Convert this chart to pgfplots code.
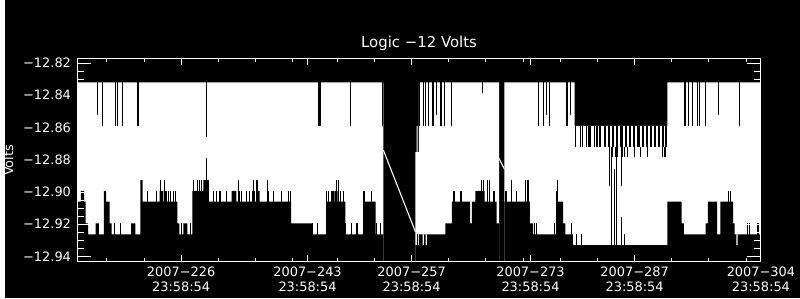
\documentclass[border=0pt]{standalone}
\usepackage{fontspec}
\setmainfont{DejaVu Sans}
\usepackage{pgfplots}
\pgfplotsset{compat=1.18}
\begin{document}
\begin{tikzpicture}
\fill[black] (0,0) rectangle (800bp,300bp);
\begin{axis}[
  at={(72.7bp,36.7bp)}, anchor=south west,
  scale only axis, width=688bp, height=204bp,
  xmin=212, xmax=304, ymin=-12.9432, ymax=-12.8175,
  axis on top,
  axis line style={white, line width=0.9bp},
  tick style={white, line width=0.9bp},
  tick align=inside,
  xtick={226,243,257,273,287,304},
  xticklabels={{2007−226\\23:58:54},{2007−243\\23:58:54},{2007−257\\23:58:54},{2007−273\\23:58:54},{2007−287\\23:58:54},{2007−304\\23:58:54}},
  minor xtick={216,221,231,236,241,247,252,262,267,272,277,282,292,297,302},
  ytick={-12.94,-12.92,-12.90,-12.88,-12.86,-12.84,-12.82},
  yticklabels={−12.94,−12.92,−12.90,−12.88,−12.86,−12.84,−12.82},
  minor ytick={-12.935,-12.93,-12.925,-12.915,-12.91,-12.905,-12.895,-12.89,-12.885,-12.875,-12.87,-12.865,-12.855,-12.85,-12.845,-12.835,-12.83,-12.825},
  xtick style={/pgfplots/major tick length=6.5bp, /pgfplots/minor tick length=3.3bp},
  ytick style={/pgfplots/major tick length=14bp, /pgfplots/minor tick length=7bp},
  xticklabel style={align=center, font=\fontsize{13bp}{15bp}\selectfont, text=white, inner sep=0pt, anchor=north, yshift=-5bp},
  yticklabel style={font=\fontsize{13bp}{15bp}\selectfont, text=white, inner sep=0pt, anchor=east, xshift=-6bp},
  title={Logic −12 Volts},
  title style={font=\fontsize{15bp}{18bp}\selectfont, text=white, at={(0.5,1)}, anchor=base, yshift=6bp},
  ylabel={Volts},
  every axis y label/.style={at={(axis description cs:-0.0936,0.5)}, rotate=90, anchor=base, font=\fontsize{13bp}{15bp}\selectfont, text=white},
]
% upper envelope of the signal (white area)
\addplot[const plot, fill=white, draw=none] coordinates {
(212,-12.95) (212,-12.8321) (253.20,-12.95) (257.52,-12.8753) (257.98,-12.8321)
(268.76,-12.95) (269.48,-12.8321) (278.93,-12.8590) (291.42,-12.8321) (304,-12.8321) (304,-12.95)
};
% lower envelope of the signal (black area below)
\addplot[const plot, fill=black, draw=none] coordinates {
(212,-12.95) (212,-12.9060) (212.49,-12.8993) (212.94,-12.9060) (213.16,-12.9195)
(213.47,-12.9262) (214.50,-12.9195) (214.94,-12.9262) (215.60,-12.8993) (215.91,-12.9060)
(216.37,-12.9195) (216.63,-12.9262) (219.26,-12.9195) (219.84,-12.9262) (220.51,-12.8926)
(220.82,-12.9060) (223.10,-12.8993) (223.60,-12.9060) (225.50,-12.9195) (225.77,-12.9262)
(226.31,-12.9195) (226.84,-12.9262) (227.51,-12.8993) (228.98,-12.8926) (229.74,-12.9060)
(232.77,-12.8993) (233.44,-12.9060) (235.54,-12.8993) (235.90,-12.9060) (236.20,-12.8993)
(236.57,-12.9060) (240.80,-12.9195) (243.57,-12.9262) (245.57,-12.9060) (246.60,-12.8993)
(247.05,-12.9060) (248.08,-12.9262) (250.52,-12.9060) (252.17,-12.9262) (253.20,-12.95)
(257.52,-12.9329) (257.98,-12.9262) (261.53,-12.9195) (262.43,-12.9060) (264.88,-12.9195)
(265.11,-12.9060) (265.57,-12.8993) (266.83,-12.9060) (268.45,-12.9195) (268.76,-12.95)
(269.48,-12.9060) (272.91,-12.9195) (273.36,-12.9262) (276.48,-12.9060) (277.38,-12.9195)
(277.68,-12.9262) (278.71,-12.9329) (291.42,-12.9060) (293.34,-12.9195) (293.64,-12.9262)
(296.55,-12.9195) (296.85,-12.9060) (298.11,-12.9262) (298.55,-12.9060) (300.25,-12.9195)
(300.46,-12.9262) (304,-12.9262) (304,-12.95)
};
% wide black dips in the low-level stretch (Oct)
\addplot[black, line width=2.4bp, unbounded coords=jump] coordinates {
(282.38,-12.8590) (282.38,-12.8724) (282.38,nan)
(282.98,-12.8590) (282.98,-12.8724) (282.98,nan)
(283.58,-12.8590) (283.58,-12.8724) (283.58,nan)
(284.12,-12.8590) (284.12,-12.8724) (284.12,nan)
(284.65,-12.8590) (284.65,-12.8724) (284.65,nan)
(285.25,-12.8590) (285.25,-12.8724) (285.25,nan)
(285.86,-12.8590) (285.86,-12.8724) (285.86,nan)
(286.39,-12.8590) (286.39,-12.8724) (286.39,nan)
(286.93,-12.8590) (286.93,-12.8724) (286.93,nan)
(287.53,-12.8590) (287.53,-12.8724) (287.53,nan)
(288.13,-12.8590) (288.13,-12.8724) (288.13,nan)
(288.67,-12.8590) (288.67,-12.8724) (288.67,nan)
(289.20,-12.8590) (289.20,-12.8724) (289.20,nan)
(289.74,-12.8590) (289.74,-12.8724) (289.74,nan)
(290.27,-12.8590) (290.27,-12.8724) (290.27,nan)
(290.81,-12.8590) (290.81,-12.8724) (290.81,nan)
(291.21,-12.8590) (291.21,-12.8724) (291.21,nan)
};
% black dips from the top
\addplot[black, line width=1.1bp, unbounded coords=jump] coordinates {
(214.76,-12.8321) (214.76,-12.8523) (214.76,nan)
(215.43,-12.8321) (215.43,-12.8590) (215.43,nan)
(217.17,-12.8321) (217.17,-12.8590) (217.17,nan)
(217.43,-12.8321) (217.43,-12.8590) (217.43,nan)
(218.10,-12.8321) (218.10,-12.8590) (218.10,nan)
(220.19,-12.8321) (220.19,-12.8590) (220.19,nan)
(229.42,-12.8321) (229.42,-12.8657) (229.42,nan)
(244.54,-12.8321) (244.54,-12.8590) (244.54,nan)
(244.77,-12.8321) (244.77,-12.8590) (244.77,nan)
(248.74,-12.8321) (248.74,-12.8590) (248.74,nan)
(253.03,-12.8321) (253.03,-12.8590) (253.03,nan)
(258.10,-12.8321) (258.10,-12.8590) (258.10,nan)
(258.55,-12.8321) (258.55,-12.8590) (258.55,nan)
(258.86,-12.8321) (258.86,-12.8590) (258.86,nan)
(259.22,-12.8321) (259.22,-12.8590) (259.22,nan)
(259.76,-12.8321) (259.76,-12.8590) (259.76,nan)
(259.98,-12.8321) (259.98,-12.8590) (259.98,nan)
(260.29,-12.8321) (260.29,-12.8523) (260.29,nan)
(260.96,-12.8321) (260.96,-12.8590) (260.96,nan)
(261.40,-12.8321) (261.40,-12.8590) (261.40,nan)
(262.34,-12.8321) (262.34,-12.8590) (262.34,nan)
(266.58,-12.8321) (266.58,-12.8388) (266.58,nan)
(274.11,-12.8321) (274.11,-12.8590) (274.11,nan)
(274.70,-12.8321) (274.70,-12.8590) (274.70,nan)
(275.14,-12.8321) (275.14,-12.8523) (275.14,nan)
(275.58,-12.8321) (275.58,-12.8590) (275.58,nan)
(277.91,-12.8321) (277.91,-12.8590) (277.91,nan)
(278.35,-12.8321) (278.35,-12.8523) (278.35,nan)
(279.00,-12.8590) (279.00,-12.8724) (279.00,nan)
(279.69,-12.8590) (279.69,-12.8724) (279.69,nan)
(280.05,-12.8590) (280.05,-12.8724) (280.05,nan)
(280.49,-12.8590) (280.49,-12.8724) (280.49,nan)
(280.80,-12.8590) (280.80,-12.8724) (280.80,nan)
(280.95,-12.8590) (280.95,-12.8724) (280.95,nan)
(281.10,-12.8590) (281.10,-12.8724) (281.10,nan)
(281.60,-12.8590) (281.60,-12.8724) (281.60,nan)
(281.83,-12.8590) (281.83,-12.8724) (281.83,nan)
(282.00,-12.8590) (282.00,-12.8724) (282.00,nan)
(283.65,-12.8724) (283.65,-12.8784) (283.65,nan)
(283.85,-12.8724) (283.85,-12.8784) (283.85,nan)
(284.00,-12.8724) (284.00,-12.8784) (284.00,nan)
(284.50,-12.8724) (284.50,-12.8784) (284.50,nan)
(284.73,-12.8724) (284.73,-12.8784) (284.73,nan)
(285.20,-12.8724) (285.20,-12.8784) (285.20,nan)
(285.40,-12.8724) (285.40,-12.8784) (285.40,nan)
(285.60,-12.8724) (285.60,-12.8784) (285.60,nan)
(286.07,-12.8724) (286.07,-12.8784) (286.07,nan)
(286.96,-12.8724) (286.96,-12.8784) (286.96,nan)
(287.85,-12.8724) (287.85,-12.8784) (287.85,nan)
(288.75,-12.8724) (288.75,-12.8784) (288.75,nan)
(290.80,-12.8724) (290.80,-12.8784) (290.80,nan)
(291.00,-12.8724) (291.00,-12.8784) (291.00,nan)
(291.20,-12.8724) (291.20,-12.8784) (291.20,nan)
(283.61,-12.8724) (283.61,-12.8960) (283.61,nan)
(283.93,-12.8724) (283.93,-12.9329) (283.93,nan)
(284.24,-12.8857) (284.24,-12.9329) (284.24,nan)
(284.60,-12.8724) (284.60,-12.9329) (284.60,nan)
(285.27,-12.8724) (285.27,-12.8960) (285.27,nan)
(285.27,-12.9153) (285.27,-12.9329) (285.27,nan)
(293.78,-12.8321) (293.78,-12.8590) (293.78,nan)
(294.31,-12.8321) (294.31,-12.8590) (294.31,nan)
(294.85,-12.8321) (294.85,-12.8590) (294.85,nan)
(295.52,-12.8321) (295.52,-12.8590) (295.52,nan)
(295.74,-12.8321) (295.74,-12.8590) (295.74,nan)
(296.55,-12.8321) (296.55,-12.8590) (296.55,nan)
(298.33,-12.8321) (298.33,-12.8523) (298.33,nan)
(301.14,-12.8321) (301.14,-12.8590) (301.14,nan)
};
% black rises from the bottom
\addplot[black, line width=1.1bp, unbounded coords=jump] coordinates {
(217.00,-12.95) (217.00,-12.9195) (217.00,nan)
(217.82,-12.95) (217.82,-12.9195) (217.82,nan)
(226.08,-12.95) (226.08,-12.9195) (226.08,nan)
(227.20,-12.95) (227.20,-12.9195) (227.20,nan)
(243.68,-12.95) (243.68,-12.9195) (243.68,nan)
(244.30,-12.95) (244.30,-12.9195) (244.30,nan)
(248.15,-12.95) (248.15,-12.9195) (248.15,nan)
(248.92,-12.95) (248.92,-12.9195) (248.92,nan)
(249.55,-12.95) (249.55,-12.9195) (249.55,nan)
(249.75,-12.95) (249.75,-12.9195) (249.75,nan)
(252.28,-12.95) (252.28,-12.9195) (252.28,nan)
(252.80,-12.95) (252.80,-12.9195) (252.80,nan)
(273.50,-12.95) (273.50,-12.9195) (273.50,nan)
(273.80,-12.95) (273.80,-12.9195) (273.80,nan)
(276.20,-12.95) (276.20,-12.9195) (276.20,nan)
(278.50,-12.95) (278.50,-12.9195) (278.50,nan)
(302.20,-12.95) (302.20,-12.9195) (302.20,nan)
(302.50,-12.95) (302.50,-12.9195) (302.50,nan)
(303.60,-12.95) (303.60,-12.9195) (303.60,nan)
(221.49,-12.95) (221.49,-12.8993) (221.49,nan)
(222.74,-12.95) (222.74,-12.8993) (222.74,nan)
(223.86,-12.95) (223.86,-12.8993) (223.86,nan)
(224.07,-12.95) (224.07,-12.8993) (224.07,nan)
(224.30,-12.95) (224.30,-12.8993) (224.30,nan)
(224.60,-12.95) (224.60,-12.8993) (224.60,nan)
(224.97,-12.95) (224.97,-12.8993) (224.97,nan)
(225.20,-12.95) (225.20,-12.8993) (225.20,nan)
(230.32,-12.95) (230.32,-12.8993) (230.32,nan)
(230.76,-12.95) (230.76,-12.8993) (230.76,nan)
(231.22,-12.95) (231.22,-12.8993) (231.22,nan)
(232.10,-12.95) (232.10,-12.8993) (232.10,nan)
(233.89,-12.95) (233.89,-12.8993) (233.89,nan)
(234.10,-12.95) (234.10,-12.8993) (234.10,nan)
(234.78,-12.95) (234.78,-12.8993) (234.78,nan)
(235.23,-12.95) (235.23,-12.8993) (235.23,nan)
(237.68,-12.95) (237.68,-12.8993) (237.68,nan)
(238.48,-12.95) (238.48,-12.8993) (238.48,nan)
(239.46,-12.95) (239.46,-12.8993) (239.46,nan)
(240.49,-12.95) (240.49,-12.8993) (240.49,nan)
(240.72,-12.95) (240.72,-12.8993) (240.72,nan)
(245.60,-12.95) (245.60,-12.8993) (245.60,nan)
(245.84,-12.95) (245.84,-12.8993) (245.84,nan)
(246.24,-12.95) (246.24,-12.8993) (246.24,nan)
(246.42,-12.95) (246.42,-12.8993) (246.42,nan)
(247.49,-12.95) (247.49,-12.8993) (247.49,nan)
(247.81,-12.95) (247.81,-12.8993) (247.81,nan)
(250.60,-12.95) (250.60,-12.8993) (250.60,nan)
(251.65,-12.95) (251.65,-12.8993) (251.65,nan)
(262.60,-12.95) (262.60,-12.8993) (262.60,nan)
(262.80,-12.95) (262.80,-12.8993) (262.80,nan)
(263.60,-12.95) (263.60,-12.8993) (263.60,nan)
(263.75,-12.95) (263.75,-12.8993) (263.75,nan)
(268.00,-12.95) (268.00,-12.8993) (268.00,nan)
(268.20,-12.95) (268.20,-12.8993) (268.20,nan)
(269.60,-12.95) (269.60,-12.8993) (269.60,nan)
(269.75,-12.95) (269.75,-12.8993) (269.75,nan)
(271.13,-12.95) (271.13,-12.8993) (271.13,nan)
(276.55,-12.95) (276.55,-12.8993) (276.55,nan)
(299.60,-12.95) (299.60,-12.8993) (299.60,nan)
(299.85,-12.95) (299.85,-12.8993) (299.85,nan)
(223.27,-12.95) (223.27,-12.8926) (223.27,nan)
(223.77,-12.95) (223.77,-12.8926) (223.77,nan)
(227.65,-12.95) (227.65,-12.8926) (227.65,nan)
(228.20,-12.95) (228.20,-12.8926) (228.20,nan)
(228.45,-12.95) (228.45,-12.8926) (228.45,nan)
(228.76,-12.95) (228.76,-12.8926) (228.76,nan)
(233.67,-12.95) (233.67,-12.8926) (233.67,nan)
(235.67,-12.95) (235.67,-12.8926) (235.67,nan)
(236.20,-12.95) (236.20,-12.8926) (236.20,nan)
(237.59,-12.95) (237.59,-12.8926) (237.59,nan)
(246.95,-12.95) (246.95,-12.8926) (246.95,nan)
(247.18,-12.95) (247.18,-12.8926) (247.18,nan)
(266.45,-12.95) (266.45,-12.8926) (266.45,nan)
(266.67,-12.95) (266.67,-12.8926) (266.67,nan)
(267.21,-12.95) (267.21,-12.8926) (267.21,nan)
(267.48,-12.95) (267.48,-12.8926) (267.48,nan)
(270.46,-12.95) (270.46,-12.8926) (270.46,nan)
(272.33,-12.95) (272.33,-12.8926) (272.33,nan)
(272.60,-12.95) (272.60,-12.8926) (272.60,nan)
(272.77,-12.95) (272.77,-12.8926) (272.77,nan)
(276.60,-12.95) (276.60,-12.8926) (276.60,nan)
(229.42,-12.95) (229.42,-12.8791) (229.42,nan)
(257.80,-12.95) (257.80,-12.9262) (257.80,nan)
(279.20,-12.95) (279.20,-12.9262) (279.20,nan)
(279.90,-12.95) (279.90,-12.9262) (279.90,nan)
(285.62,-12.95) (285.62,-12.9262) (285.62,nan)
};
% white strokes: gaps bridged by straight lines, and single low or high samples
\addplot[white, line width=1.1bp, unbounded coords=jump] coordinates {
(253.20,-12.8740) (257.52,-12.9247) (257.52,nan)
(268.76,-12.8792) (269.48,-12.8857) (269.48,nan)
(257.75,-12.8753) (257.75,-12.8590) (257.75,nan)
(258.57,-12.9262) (258.57,-12.9329) (258.57,nan)
(258.97,-12.9262) (258.97,-12.9329) (258.97,nan)
(300.78,-12.9262) (300.78,-12.9329) (300.78,nan)
};
\end{axis}
\end{tikzpicture}
\end{document}
